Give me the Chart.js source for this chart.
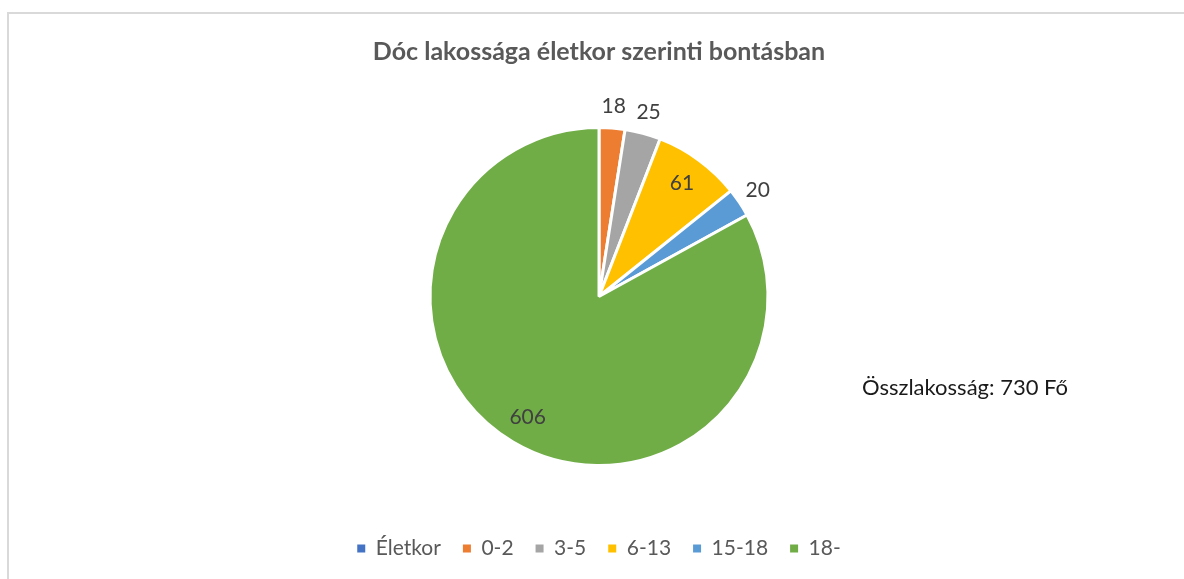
<!DOCTYPE html>
<html>
<head>
<meta charset="utf-8">
<script src="https://cdn.jsdelivr.net/npm/chart.js@4/dist/chart.umd.min.js"></script>
<style>
  html, body { margin: 0; padding: 0; background: #fff; }
  #wrap { position: relative; width: 1184px; height: 579px; overflow: hidden; }
  #keret { position: absolute; left: 7px; top: 12px; width: 1200px; height: 600px; border: 2px solid #d9d9d9; box-sizing: border-box; }
  #myChart { position: absolute; left: 0; top: 0; }
  #osszes { position: absolute; left: 862px; top: 373px; font-family: Lato, sans-serif; font-size: 22px; color: #1a1a1a; white-space: nowrap; }
</style>
</head>
<body>
<div id="wrap">
  <div id="keret"></div>
  <canvas id="myChart" width="1184" height="579"></canvas>
  <div id="osszes">Összlakosság: 730 Fő</div>
</div>
<script>
const korcsoportok = ['Életkor', '0-2', '3-5', '6-13', '15-18', '18-'];
const lakosok = [0, 18, 25, 61, 20, 606];
const szinek = ['#4472C4', '#ED7D31', '#A5A5A5', '#FFC000', '#5B9BD5', '#70AD47'];
// hol legyen a cimke: belul vagy kivul
const cimkeHely = ['out', 'out', 'out', 'in', 'out', 'in'];

const cimkek = {
  id: 'cimkek',
  afterDatasetsDraw(chart) {
    const ctx = chart.ctx;
    const meta = chart.getDatasetMeta(0);
    ctx.save();
    ctx.font = '21px Lato';
    ctx.fillStyle = '#404040';
    ctx.textAlign = 'center';
    ctx.textBaseline = 'middle';
    meta.data.forEach((arc, i) => {
      const v = lakosok[i];
      if (!v) return;
      const p = arc.getProps(['x', 'y', 'startAngle', 'endAngle', 'outerRadius'], true);
      const mid = (p.startAngle + p.endAngle) / 2;
      const r = cimkeHely[i] === 'in' ? p.outerRadius * 0.83 : p.outerRadius + 22;
      ctx.fillText(String(v), p.x + Math.cos(mid) * r, p.y + Math.sin(mid) * r);
    });
    ctx.restore();
  }
};

const ctx = document.getElementById('myChart').getContext('2d');
var myChart = new Chart(ctx, {
  type: 'pie',
  data: {
    labels: korcsoportok,
    datasets: [{
      data: lakosok,
      backgroundColor: szinek,
      borderColor: '#ffffff',
      borderWidth: 3
    }]
  },
  options: {
    responsive: false,
    animation: false,
    radius: 169,
    layout: { padding: { left: 14, right: 0, top: 0, bottom: 10 } },
    plugins: {
      tooltip: { enabled: false },
      title: {
        display: true,
        text: 'Dóc lakossága életkor szerinti bontásban',
        color: '#595959',
        font: { family: 'Lato', size: 25, weight: 'bold' },
        padding: { top: 37, bottom: 10 }
      },
      legend: {
        position: 'bottom',
        labels: {
          color: '#595959',
          font: { family: 'Lato', size: 21 },
          boxWidth: 8,
          boxHeight: 8,
          padding: 22,
          generateLabels(chart) {
            const items = Chart.overrides.pie.plugins.legend.labels.generateLabels(chart);
            items.forEach(it => { it.lineWidth = 0; it.strokeStyle = it.fillStyle; });
            return items;
          }
        }
      }
    }
  },
  plugins: [cimkek]
});
</script>
</body>
</html>
